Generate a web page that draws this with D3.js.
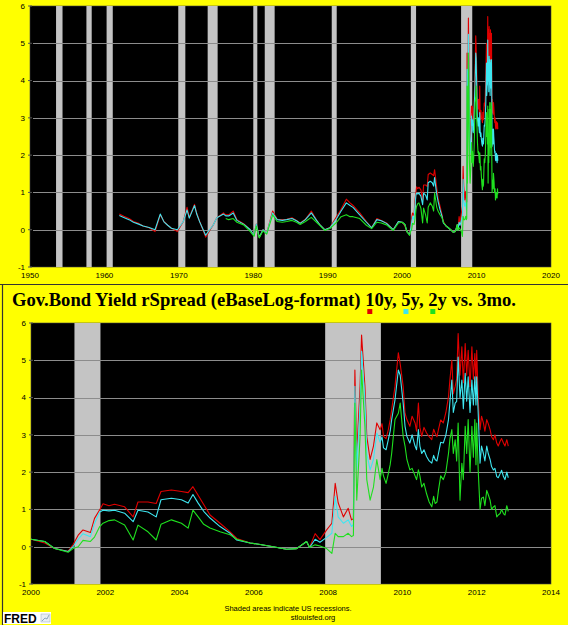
<!DOCTYPE html>
<html>
<head>
<meta charset="utf-8">
<script src="https://cdn.jsdelivr.net/npm/d3@7"></script>
<style>
  body { margin: 0; background: #ffff00; }
  svg { display: block; }
</style>
</head>
<body>
<div id="chart"></div>
<script>
// Gov. bond yield spread vs. 3 month bill (eBaseLog format), FRED style
// values

//////////////////////////////////////////////////
////////////////////// DATA //////////////////////
//////////////////////////////////////////////////

var years = [
  1962.0, 1962.6, 1963.3, 1963.9, 1964.6, 1965.2, 1966.0, 1966.8, 1967.5, 1968.0,
  1968.5, 1969.0, 1969.8, 1970.6, 1971.1, 1971.4, 1972.1, 1972.4, 1972.8, 1973.6,
  1974.2, 1974.6, 1975.1, 1976.0, 1976.3, 1976.7, 1977.3, 1977.8, 1978.7, 1979.6,
  1980.1, 1980.4, 1980.8, 1981.3, 1981.8, 1982.6, 1983.2, 1983.9, 1984.5, 1985.2,
  1985.8, 1986.3, 1987.0, 1987.8, 1988.5, 1989.0, 1989.6, 1990.3, 1991.2, 1991.8,
  1992.5, 1993.0, 1993.4, 1994.3, 1995.2, 1995.9, 1996.6, 1997.2, 1997.9, 1998.8,
  1999.5,
  2000.0, 2000.37, 2000.64, 2001.0, 2001.13, 2001.27, 2001.4, 2001.6, 2001.71, 2001.85,
  2001.94, 2002.1, 2002.25, 2002.52, 2002.75, 2002.88, 2003.15, 2003.37, 2003.5, 2003.78,
  2004.05, 2004.23, 2004.36, 2004.5, 2004.65, 2004.82, 2005.09, 2005.36, 2005.54, 2005.9,
  2006.17, 2006.52, 2006.88, 2007.15, 2007.42, 2007.5, 2007.65, 2007.78, 2007.96, 2008.1,
  2008.19, 2008.27, 2008.41, 2008.54, 2008.63, 2008.68, 2008.72, 2008.77, 2008.86, 2008.9,
  2008.99, 2009.04, 2009.13, 2009.22, 2009.31,
  2009.4, 2009.45, 2009.49, 2009.56, 2009.62, 2009.67, 2009.71, 2009.8, 2009.89, 2009.94,
  2010.02, 2010.07, 2010.12, 2010.2, 2010.26, 2010.34, 2010.38, 2010.43, 2010.47, 2010.52,
  2010.58, 2010.65, 2010.72, 2010.79, 2010.84, 2010.88, 2010.93, 2010.97, 2011.03, 2011.1,
  2011.17, 2011.24, 2011.28, 2011.33, 2011.37, 2011.42, 2011.46, 2011.5, 2011.55, 2011.6,
  2011.64, 2011.69, 2011.73, 2011.77, 2011.82, 2011.87, 2011.91, 2011.95, 2011.98, 2012.0,
  2012.04, 2012.09, 2012.13, 2012.18, 2012.22, 2012.27, 2012.31, 2012.36, 2012.4, 2012.45,
  2012.49, 2012.54, 2012.58, 2012.63, 2012.67, 2012.72, 2012.76, 2012.81, 2012.85
];

var spread10y = [
  0.42, 0.36, 0.30, 0.22, 0.17, 0.10, 0.05, -0.05, 0.40, 0.22,
  0.12, 0.04, -0.05, 0.22, 0.60, 0.33, 0.68, 0.44, 0.22, -0.20,
  0.00, 0.12, 0.32, 0.45, 0.40, 0.40, 0.50, 0.27, 0.16, 0.00,
  -0.15, 0.15, -0.20, 0.00, -0.10, 0.50, 0.28, 0.27, 0.28, 0.32,
  0.25, 0.18, 0.28, 0.50, 0.26, 0.12, 0.00, 0.06, 0.35, 0.55,
  0.82, 0.72, 0.65, 0.45, 0.22, 0.05, 0.30, 0.25, 0.18, 0.00,
  0.22,
  0.20, 0.10, -0.05, -0.12, 0.05, 0.31, 0.45, 0.38, 0.76, 0.99,
  1.15, 1.10, 1.14, 1.07, 0.80, 1.20, 1.20, 1.16, 1.48, 1.52,
  1.48, 1.45, 1.61, 1.38, 1.13, 0.85, 0.63, 0.40, 0.22, 0.10,
  0.06, 0.00, -0.07, -0.05, 0.14, -0.02, 0.35, 0.19, 0.45, 0.63,
  1.70, 1.18, 0.80, 1.03, 0.72, 0.75, 4.74, 2.50, 4.30, 5.68,
  4.30, 2.96, 2.34, 2.70, 3.32,
  3.14, 3.30, 2.96, 2.90, 3.14, 3.40, 3.67, 4.30, 5.20, 4.90,
  4.30, 3.58, 3.41, 3.23, 3.50, 3.32, 3.10, 3.85, 3.20, 2.96,
  3.20, 3.05, 2.95, 2.87, 3.15, 3.05, 2.95, 3.14, 3.40, 3.32,
  3.60, 4.02, 4.50, 5.00, 4.10, 4.30, 4.50, 5.72, 4.60, 5.36,
  4.40, 5.45, 4.60, 5.27, 4.30, 5.36, 4.50, 5.18, 4.40, 5.27,
  3.94, 3.14, 3.50, 3.32, 3.10, 3.41, 3.30, 3.14, 2.95, 2.87,
  3.00, 2.78, 2.70, 2.83, 2.90, 2.78, 2.70, 2.87, 2.70
];

var spread5y = [
  0.38, 0.33, 0.27, 0.20, 0.15, 0.10, 0.06, 0.00, 0.42, 0.21,
  0.12, 0.04, 0.00, 0.22, 0.53, 0.31, 0.65, 0.42, 0.21, -0.15,
  0.02, 0.12, 0.32, 0.42, 0.37, 0.37, 0.45, 0.25, 0.15, 0.00,
  -0.15, 0.15, -0.20, 0.00, -0.10, 0.45, 0.27, 0.25, 0.27, 0.30,
  0.24, 0.17, 0.27, 0.45, 0.25, 0.12, 0.00, 0.05, 0.30, 0.50,
  0.72, 0.65, 0.60, 0.40, 0.20, 0.05, 0.27, 0.24, 0.17, 0.00,
  0.22,
  0.20, 0.14, -0.05, -0.13, 0.00, 0.20, 0.35, 0.27, 0.62, 0.93,
  0.98, 0.96, 0.98, 0.90, 0.67, 0.98, 0.93, 0.80, 1.26, 1.30,
  1.26, 1.17, 1.40, 1.17, 0.95, 0.77, 0.54, 0.36, 0.18, 0.10,
  0.06, 0.00, -0.07, -0.05, 0.14, -0.02, 0.20, 0.12, 0.25, 0.36,
  1.35, 0.80, 0.63, 0.72, 0.54, 0.60, 4.30, 2.06, 3.85, 5.24,
  3.94, 2.50, 2.06, 2.34, 3.05,
  2.80, 2.95, 2.65, 2.60, 2.87, 3.10, 3.41, 3.94, 4.74, 4.60,
  3.85, 3.23, 2.96, 2.78, 3.00, 2.70, 2.60, 3.14, 2.70, 2.50,
  2.60, 2.42, 2.30, 2.24, 2.45, 2.34, 2.30, 2.50, 2.80, 2.78,
  3.00, 3.41, 3.90, 4.47, 3.60, 3.85, 3.90, 5.09, 4.00, 4.47,
  3.70, 4.65, 3.90, 4.56, 3.60, 4.47, 3.80, 4.56, 3.80, 4.56,
  3.58, 2.24, 2.70, 2.50, 2.30, 2.70, 2.50, 2.34, 2.15, 2.06,
  2.10, 1.88, 1.85, 1.96, 2.05, 1.88, 1.80, 2.00, 1.85
];

var spread2y = [
  null, null, null, null, null, null, null, null, null, null,
  null, null, null, null, null, null, null, null, null, null,
  null, null, null, null, 0.30, 0.27, 0.30, 0.20, 0.13, -0.05,
  -0.18, 0.10, -0.22, -0.03, -0.12, 0.40, 0.22, 0.20, 0.22, 0.25,
  0.20, 0.14, 0.22, 0.33, 0.20, 0.10, -0.02, 0.03, 0.20, 0.35,
  0.40, 0.35, 0.35, 0.30, 0.12, 0.03, 0.20, 0.18, 0.13, -0.02,
  0.18,
  0.20, 0.14, -0.05, -0.15, -0.05, 0.00, 0.17, 0.14, 0.26, 0.54,
  0.63, 0.70, 0.72, 0.58, 0.18, 0.58, 0.40, 0.18, 0.60, 0.72,
  0.63, 0.50, 0.98, 0.80, 0.60, 0.50, 0.40, 0.32, 0.20, 0.10,
  0.06, 0.00, -0.07, -0.05, 0.14, -0.02, 0.05, 0.02, -0.05, -0.18,
  0.36, 0.27, 0.27, 0.36, 0.27, 0.30, 3.85, 1.25, 2.96, 4.74,
  3.23, 1.80, 1.25, 1.60, 2.34,
  1.80, 2.10, 1.90, 1.70, 1.96, 2.20, 2.50, 3.41, 3.58, 3.85,
  2.96, 2.70, 2.34, 2.06, 2.10, 1.90, 1.80, 2.06, 1.90, 1.60,
  1.70, 1.42, 1.20, 1.07, 1.35, 1.16, 1.20, 1.51, 1.90, 1.80,
  2.00, 2.50, 2.90, 3.14, 2.50, 2.87, 2.30, 3.32, 1.25, 2.24,
  1.80, 3.23, 2.50, 3.41, 2.00, 3.23, 2.40, 3.41, 2.20, 3.32,
  2.06, 1.00, 1.30, 1.33, 1.10, 1.51, 1.40, 1.25, 1.00, 1.07,
  1.10, 0.80, 0.85, 0.89, 1.00, 0.89, 0.85, 1.10, 0.95
];

// NBER recessions (start, end)
var recessions = [
  [1953.50, 1954.37], [1957.58, 1958.29], [1960.29, 1961.12], [1969.92, 1970.87],
  [1973.87, 1975.21], [1980.00, 1980.54], [1981.54, 1982.87], [1990.54, 1991.21],
  [2001.17, 2001.87], [2007.92, 2009.42]
];

var topXTicks = [1950, 1960, 1970, 1980, 1990, 2000, 2010, 2020];
var bottomXTicks = [2000, 2002, 2004, 2006, 2008, 2010, 2012, 2014];
var yTicks = [-1, 0, 1, 2, 3, 4, 5, 6];

var seriesNames = ["10y", "5y", "2y"];
var seriesColors = ["#e00000", "#3ee6f0", "#1fe01f"];
var seriesValues = [spread10y, spread5y, spread2y];

//////////////////////////////////////////////////
///////////////////// SETUP //////////////////////
//////////////////////////////////////////////////

var W = 568, H = 625;

var svg = d3.select("#chart")
  .append("svg")
    .attr("width", W)
    .attr("height", H);

svg.append("rect")
  .attr("width", W)
  .attr("height", H)
  .attr("fill", "#ffff00");

var series = seriesNames.map(function(name, i) {
  return {
    name: name,
    color: seriesColors[i],
    values: years.map(function(yr, j) { return {x: yr, v: seriesValues[i][j]}; })
  };
});

// draw one FRED style panel
function drawPanel(id, box, xDomain, xTicks) {
  var x = d3.scaleLinear().domain(xDomain).range([box.left, box.right]);
  var y = d3.scaleLinear().domain([-1, 6]).range([box.bottom, box.top]);

  svg.append("clipPath")
    .attr("id", id)
    .append("rect")
      .attr("x", box.left)
      .attr("y", box.top)
      .attr("width", box.right - box.left)
      .attr("height", box.bottom - box.top);

  var g = svg.append("g");

  // black plot area
  g.append("rect")
    .attr("x", box.left)
    .attr("y", box.top)
    .attr("width", box.right - box.left)
    .attr("height", box.bottom - box.top)
    .attr("fill", "#000")
    .attr("stroke", "#444")
    .attr("stroke-width", 0.6);

  var inner = g.append("g").attr("clip-path", "url(#" + id + ")");

  // recession shading
  inner.selectAll(".rec")
    .data(recessions)
    .enter()
    .append("rect")
      .attr("x", function(d) { return x(d[0]); })
      .attr("y", box.top)
      .attr("width", function(d) { return x(d[1]) - x(d[0]); })
      .attr("height", box.bottom - box.top)
      .attr("fill", "#c4c4c4");

  // gridlines
  inner.selectAll(".grid")
    .data(yTicks.slice(1, -1))
    .enter()
    .append("line")
      .attr("x1", box.left + 3)
      .attr("x2", box.right)
      .attr("y1", function(d) { return Math.round(y(d)) + 0.5; })
      .attr("y2", function(d) { return Math.round(y(d)) + 0.5; })
      .attr("stroke", "#8c8c8c")
      .attr("stroke-width", 1);

  var line = d3.line()
    .defined(function(d) { return d.v != null; })
    .x(function(d) { return x(d.x); })
    .y(function(d) { return y(d.v); });

  inner.selectAll(".series")
    .data(series)
    .enter()
    .append("path")
      .attr("fill", "none")
      .attr("stroke", function(d) { return d.color; })
      .attr("stroke-width", 1.1)
      .attr("stroke-linejoin", "round")
      .attr("d", function(d) {
        return line(d.values.filter(function(p) { return p.x >= xDomain[0] - 1; }));
      });

  // y axis labels
  g.selectAll(".ylab")
    .data(yTicks)
    .enter()
    .append("text")
      .attr("x", box.left - 5)
      .attr("y", function(d) { return y(d); })
      .attr("dy", "0.35em")
      .attr("text-anchor", "end")
      .style("font-family", "'Liberation Sans', Arial, sans-serif")
      .style("font-size", "8px")
      .text(function(d) { return d; });

  // small ticks on the left edge
  g.selectAll(".ytick")
    .data(yTicks)
    .enter()
    .append("line")
      .attr("x1", box.left - 2)
      .attr("x2", box.left + 2)
      .attr("y1", function(d) { return y(d); })
      .attr("y2", function(d) { return y(d); })
      .attr("stroke", "#555");

  // x axis labels
  g.selectAll(".xlab")
    .data(xTicks)
    .enter()
    .append("text")
      .attr("x", function(d) { return x(d); })
      .attr("y", box.bottom + 11)
      .attr("text-anchor", "middle")
      .style("font-family", "'Liberation Sans', Arial, sans-serif")
      .style("font-size", "8px")
      .text(function(d) { return d; });
}

//////////////////////////////////////////////////
///////////////////// PANELS /////////////////////
//////////////////////////////////////////////////

drawPanel("clipTop", {left: 30, right: 551, top: 6, bottom: 267}, [1950, 2020], topXTicks);

// frame of the lower picture
svg.append("line")
  .attr("x1", 0).attr("x2", W)
  .attr("y1", 284.5).attr("y2", 284.5)
  .attr("stroke", "#333").attr("stroke-width", 1.2);
svg.append("line")
  .attr("x1", 2.5).attr("x2", 2.5)
  .attr("y1", 284.5).attr("y2", H)
  .attr("stroke", "#333").attr("stroke-width", 1.2);

// title
var title = svg.append("text")
  .attr("x", 12)
  .attr("y", 306)
  .attr("textLength", 504)
  .attr("lengthAdjust", "spacingAndGlyphs")
  .style("font-family", "'Liberation Serif', 'DejaVu Serif', serif")
  .style("font-weight", "bold")
  .style("font-size", "19px")
  .text("Gov.Bond Yield rSpread (eBaseLog-format) 10y, 5y, 2y vs. 3mo.");

// little colour keys under the 1, 5 and 2
var titleStr = title.text();
var keyIdx = [titleStr.indexOf("10y"), titleStr.indexOf("5y,"), titleStr.indexOf("2y ")];
keyIdx.forEach(function(idx, i) {
  var ext = title.node().getExtentOfChar(idx);
  svg.append("rect")
    .attr("x", ext.x + ext.width / 2 - 2.5)
    .attr("y", 309)
    .attr("width", 5)
    .attr("height", 5)
    .attr("fill", seriesColors[i]);
});

drawPanel("clipBottom", {left: 31, right: 551, top: 323, bottom: 584}, [2000, 2014], bottomXTicks);

//////////////////////////////////////////////////
///////////////////// FOOTER /////////////////////
//////////////////////////////////////////////////

svg.append("text")
  .attr("x", 288)
  .attr("y", 611)
  .attr("text-anchor", "middle")
  .style("font-family", "'Liberation Sans', Arial, sans-serif")
  .style("font-size", "7.5px")
  .text("Shaded areas indicate US recessions.");

svg.append("text")
  .attr("x", 313)
  .attr("y", 620)
  .attr("text-anchor", "middle")
  .style("font-family", "'Liberation Sans', Arial, sans-serif")
  .style("font-size", "7.5px")
  .text("stlouisfed.org");

// FRED logo
var logo = svg.append("g").attr("transform", "translate(3,612)");
logo.append("rect")
  .attr("width", 48).attr("height", 12)
  .attr("fill", "#fff");
logo.append("text")
  .attr("x", 1)
  .attr("y", 10.5)
  .style("font-family", "'Liberation Sans', Arial, sans-serif")
  .style("font-weight", "bold")
  .style("font-size", "12px")
  .text("FRED");
logo.append("rect")
  .attr("x", 38).attr("y", 2).attr("width", 9).attr("height", 8)
  .attr("fill", "#e8eef4").attr("stroke", "#9ab").attr("stroke-width", 0.5);
logo.append("path")
  .attr("d", "M39,9 L42,6 L44,7 L46,3")
  .attr("fill", "none").attr("stroke", "#68a").attr("stroke-width", 0.7);
</script>
</body>
</html>
